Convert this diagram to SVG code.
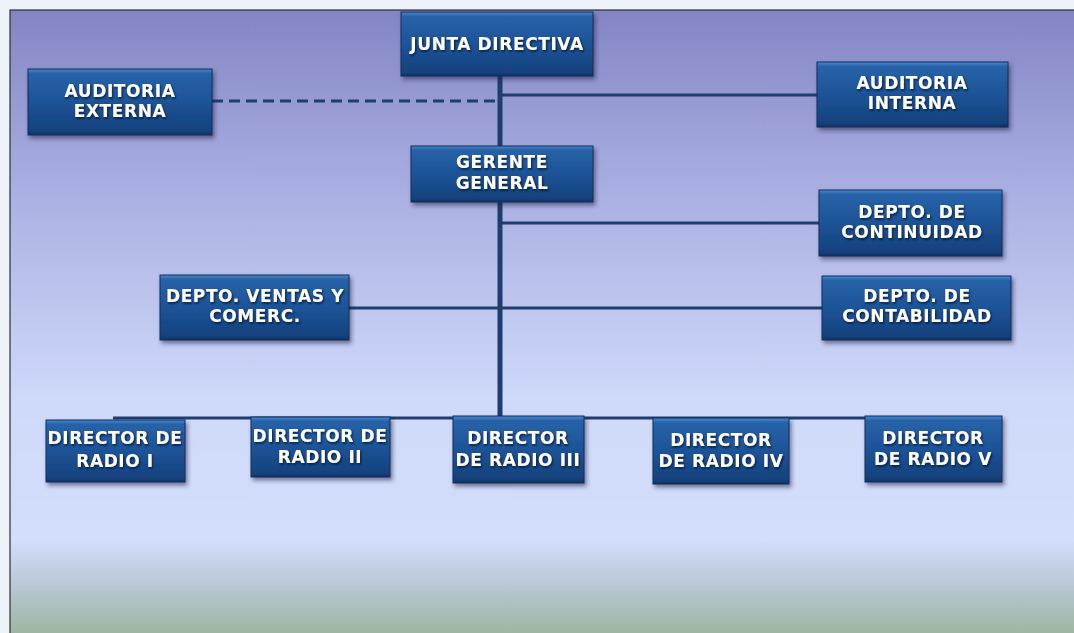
<svg xmlns="http://www.w3.org/2000/svg" width="1074" height="633" viewBox="0 0 1074 633">
<defs>
<linearGradient id="bg" x1="0" y1="0" x2="0" y2="1">
<stop offset="0" stop-color="#8385c3"/>
<stop offset="0.3" stop-color="#abb1e3"/>
<stop offset="0.62" stop-color="#cfd9f9"/>
<stop offset="0.84" stop-color="#d3defb"/>
<stop offset="0.91" stop-color="#bac8d8"/>
<stop offset="1" stop-color="#9bb398"/>
</linearGradient>
<linearGradient id="box" x1="0" y1="0" x2="0" y2="1">
<stop offset="0" stop-color="#4b88cc"/>
<stop offset="0.07" stop-color="#2762a8"/>
<stop offset="0.5" stop-color="#1d5397"/>
<stop offset="0.93" stop-color="#15427e"/>
<stop offset="1" stop-color="#0f3466"/>
</linearGradient>
<filter id="sh" x="-10%" y="-10%" width="125%" height="135%">
<feDropShadow dx="2" dy="3" stdDeviation="2" flood-color="#1a2340" flood-opacity="0.55"/>
</filter>
<filter id="tsh" x="-5%" y="-20%" width="110%" height="150%">
<feDropShadow dx="1" dy="1.5" stdDeviation="0.8" flood-color="#050f25" flood-opacity="0.8"/>
</filter>
</defs>
<style>
.node rect{fill:url(#box);stroke:#0e2f5c;stroke-width:1;filter:url(#sh)}
.node text{fill:#ffffff;font-family:"DejaVu Sans",sans-serif;font-weight:bold;font-size:17px;letter-spacing:0.6px;text-anchor:middle;filter:url(#tsh)}
.conn line{stroke:#1f3d6e;stroke-width:3}
.conn .spine{stroke-width:5}
.conn .dash{stroke-dasharray:11 6}
</style>
<rect x="0" y="0" width="1074" height="633" fill="#eef2f9"/>
<rect x="10" y="10" width="1070" height="630" fill="url(#bg)" stroke="#2b2f3a" stroke-width="1.2"/>
<g id="connectors" class="conn">
<line class="spine" x1="500" y1="76" x2="500" y2="418"/>
<line class="dash" x1="212" y1="101" x2="498" y2="101"/>
<line x1="502" y1="95" x2="817" y2="95"/>
<line x1="502" y1="223" x2="819" y2="223"/>
<line x1="349" y1="308" x2="822" y2="308"/>
<line x1="113" y1="418" x2="936" y2="418"/>
</g>
<g id="junta" class="node"><rect x="401" y="12" width="192" height="64"/><text x="497" y="50">JUNTA DIRECTIVA</text></g>
<g id="aud-externa" class="node"><rect x="28" y="69" width="184" height="66"/><text x="120" y="97">AUDITORIA</text><text x="120" y="117">EXTERNA</text></g>
<g id="aud-interna" class="node"><rect x="817" y="62" width="191" height="65"/><text x="912" y="89">AUDITORIA</text><text x="912" y="109">INTERNA</text></g>
<g id="gerente" class="node"><rect x="411" y="146" width="182" height="56"/><text x="502" y="168">GERENTE</text><text x="502" y="189">GENERAL</text></g>
<g id="continuidad" class="node"><rect x="819" y="190" width="183" height="66"/><text x="912" y="218">DEPTO. DE</text><text x="912" y="238">CONTINUIDAD</text></g>
<g id="ventas" class="node"><rect x="160" y="275" width="189" height="65"/><text x="255" y="302">DEPTO. VENTAS Y</text><text x="255" y="322">COMERC.</text></g>
<g id="contabilidad" class="node"><rect x="822" y="276" width="189" height="64"/><text x="917" y="302">DEPTO. DE</text><text x="917" y="322">CONTABILIDAD</text></g>
<g id="radio1" class="node"><rect x="46" y="420" width="139" height="62"/><text x="115" y="444">DIRECTOR DE</text><text x="115" y="467">RADIO I</text></g>
<g id="radio2" class="node"><rect x="251" y="417" width="139" height="60"/><text x="320" y="442">DIRECTOR DE</text><text x="320" y="463">RADIO II</text></g>
<g id="radio3" class="node"><rect x="453" y="416" width="131" height="67"/><text x="518" y="444">DIRECTOR</text><text x="518" y="466">DE RADIO III</text></g>
<g id="radio4" class="node"><rect x="653" y="418" width="136" height="66"/><text x="721" y="446">DIRECTOR</text><text x="721" y="467">DE RADIO IV</text></g>
<g id="radio5" class="node"><rect x="865" y="416" width="137" height="66"/><text x="933" y="444">DIRECTOR</text><text x="933" y="465">DE RADIO V</text></g>
</svg>
